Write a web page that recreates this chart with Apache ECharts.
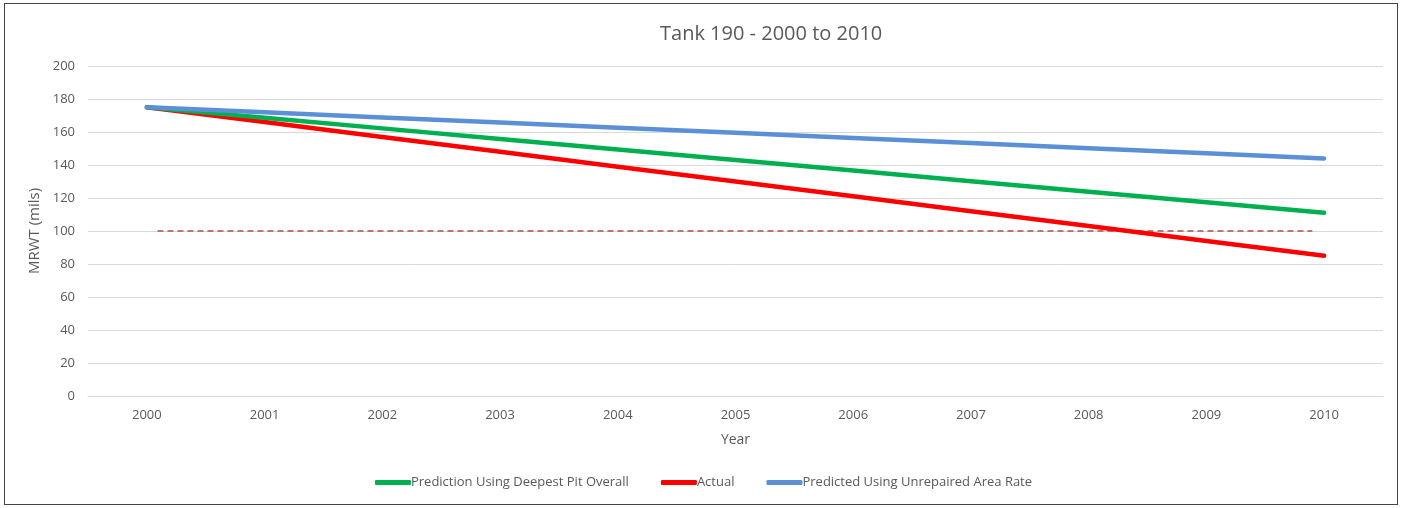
<!DOCTYPE html>
<html>
<head>
<meta charset="utf-8">
<script src="https://cdn.jsdelivr.net/npm/echarts@6/dist/echarts.min.js"></script>
<style>
  html, body { margin: 0; padding: 0; background: #fff; }
  #frame { position: absolute; left: 4px; top: 3px; width: 1394px; height: 502px; border: 1px solid #444; box-sizing: border-box; }
  #chart { width: 1407px; height: 508px; }
</style>
</head>
<body>
<div id="chart"></div>
<div id="frame"></div>
<script>
// Wall-thickness history for tank 190
const years = ['2000', '2001', '2002', '2003', '2004', '2005', '2006', '2007', '2008', '2009', '2010'];
const deepestPit = [175, 168.6, 162.2, 155.8, 149.4, 143, 136.6, 130.2, 123.8, 117.4, 111];
const actual = [175, 166, 157, 148, 139, 130, 121, 112, 103, 94, 85];
const unrepairedRate = [175, 171.9, 168.8, 165.7, 162.6, 159.5, 156.4, 153.3, 150.2, 147.1, 144];
// Minimum allowed thickness, drawn as a dashed reference line
const minThickness = [[2000.09, 100], [2009.9, 100]];
const yTicks = { min: 0, max: 200, interval: 20 };

const font = "'Open Sans', 'Noto Sans', sans-serif";
const chart = echarts.init(document.getElementById('chart'), null, { renderer: 'canvas' });

chart.setOption({
  animation: false,
  backgroundColor: '#fff',
  textStyle: { fontFamily: font },
  title: {
    text: 'Tank 190 - 2000 to 2010',
    left: 655,
    top: 19,
    textStyle: { fontFamily: font, fontSize: 20, fontWeight: 'normal', color: '#595959' }
  },
  legend: {
    bottom: 14,
    left: 'center',
    itemWidth: 36,
    itemHeight: 5,
    itemGap: 32,
    icon: 'roundRect',
    textStyle: { fontFamily: font, fontSize: 13, color: '#595959', padding: [0, 0, 0, -5] },
    data: ['Prediction Using Deepest Pit Overall', 'Actual', 'Predicted Using Unrepaired Area Rate']
  },
  grid: { left: 88, right: 24, top: 66, bottom: 112 },
  xAxis: [
    {
      type: 'category',
      data: years,
      boundaryGap: true,
      name: 'Year',
      nameLocation: 'middle',
      nameGap: 37,
      nameTextStyle: { fontFamily: font, fontSize: 14, color: '#595959' },
      axisLine: { show: true, lineStyle: { color: '#d9d9d9' } },
      axisTick: { show: false },
      axisLabel: { fontFamily: font, fontSize: 13, color: '#595959', margin: 13 }
    },
    {
      type: 'value',
      min: 1999.5,
      max: 2010.5,
      show: false
    }
  ],
  yAxis: {
    type: 'value',
    min: yTicks.min,
    max: yTicks.max,
    interval: yTicks.interval,
    name: 'MRWT (mils)',
    nameLocation: 'middle',
    nameGap: 44,
    nameTextStyle: { fontFamily: font, fontSize: 15, color: '#595959' },
    axisLine: { show: false },
    axisTick: { show: false },
    splitLine: { lineStyle: { color: '#d9d9d9', width: 1 } },
    axisLabel: { fontFamily: font, fontSize: 13, color: '#595959', margin: 13 }
  },
  series: [
    {
      name: 'Min thickness',
      type: 'line',
      xAxisIndex: 1,
      data: minThickness,
      symbol: 'none',
      lineStyle: { color: '#b0504d', width: 1.5, type: [6, 4] },
      z: 1
    },
    {
      name: 'Prediction Using Deepest Pit Overall',
      type: 'line',
      data: deepestPit,
      symbol: 'none',
      color: '#00b050',
      lineStyle: { color: '#00b050', width: 4.5, cap: 'round' },
      z: 3
    },
    {
      name: 'Actual',
      type: 'line',
      data: actual,
      symbol: 'none',
      color: '#ff0000',
      lineStyle: { color: '#ff0000', width: 4.5, cap: 'round' },
      z: 2
    },
    {
      name: 'Predicted Using Unrepaired Area Rate',
      type: 'line',
      data: unrepairedRate,
      symbol: 'none',
      color: '#5b8fd6',
      lineStyle: { color: '#5b8fd6', width: 4.5, cap: 'round' },
      z: 4
    }
  ]
});
</script>
</body>
</html>
